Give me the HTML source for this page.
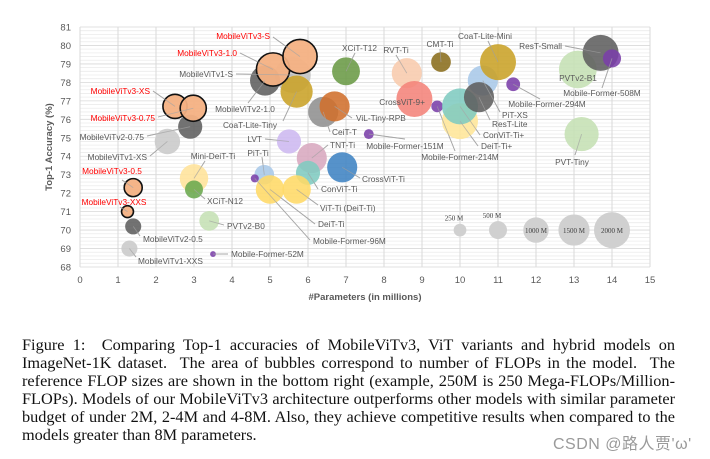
<!DOCTYPE html>
<html><head><meta charset="utf-8">
<style>
html,body{margin:0;padding:0;background:#fff;}
#wrap{position:relative;width:710px;height:459px;overflow:hidden;}
#chart{position:absolute;left:0;top:0;}
#caption{position:absolute;left:22px;top:336px;width:653px;font-family:"Liberation Serif",serif;font-size:16.3px;line-height:18.1px;color:#111;}
#caption div{text-align:justify;text-align-last:justify;white-space:nowrap;}
#caption div.last{text-align-last:left;}
#wm{position:absolute;left:553px;top:430px;font-family:"Liberation Sans","Noto Sans CJK SC",sans-serif;font-size:16px;color:#9a9a9a;letter-spacing:0.5px;}
</style></head>
<body>
<div id="wrap">
<svg id="chart" width="710" height="320" font-family="'Liberation Sans',sans-serif"></svg>
<div id="caption">
<div style="white-space:normal">Figure 1: &nbsp;Comparing Top-1 accuracies of MobileViTv3, ViT variants and hybrid models on</div>
<div style="white-space:normal">ImageNet-1K dataset. &nbsp;The area of bubbles correspond to number of FLOPs in the model. &nbsp;The</div>
<div style="white-space:normal">reference FLOP sizes are shown in the bottom right (example, 250M is 250 Mega-FLOPs/Million-</div>
<div style="white-space:normal">FLOPs). Models of our MobileViTv3 architecture outperforms other models with similar parameter</div>
<div style="white-space:normal">budget of under 2M, 2-4M and 4-8M. Also, they achieve competitive results when compared to the</div>
<div class="last">models greater than 8M parameters.</div>
</div>
<div id="wm">CSDN @路人贾'ω'</div>
</div>
<script>
const names=["MobileViTv1-S","MobileViTv2-1.0","CoaT-Lite-Tiny","MobileViTv3-1.0","MobileViTv3-S","MobileViTv2-0.75","MobileViTv1-XS","MobileViTv3-XS","MobileViTv3-0.75","XCiT-T12","CeiT-T","ViL-Tiny-RPB","LVT","TNT-Ti","CrossViT-Ti","ConViT-Ti","PiT-Ti","DeiT-Ti","ViT-Ti (DeiT-Ti)","Mobile-Former-96M","Mini-DeiT-Ti","XCiT-N12","PVTv2-B0","Mobile-Former-52M","MobileViTv2-0.5","MobileViTv1-XXS","MobileViTv3-0.5","MobileViTv3-XXS","RVT-Ti","CMT-Ti","CrossViT-9+","Mobile-Former-151M","Mobile-Former-214M","DeiT-Ti+","ConViT-Ti+","PiT-XS","ResT-Lite","CoaT-Lite-Mini","Mobile-Former-294M","PVTv2-B1","ResT-Small","Mobile-Former-508M","PVT-Tiny"];
const params=[5.6,4.87,5.7,5.08,5.79,2.9,2.3,2.5,2.98,7.0,6.4,6.7,5.5,6.1,6.9,6.0,4.85,5.0,5.7,4.6,3.0,3.0,3.4,3.5,1.4,1.3,1.4,1.25,8.6,9.5,8.8,7.6,9.4,10.0,10.0,10.6,10.5,11.0,11.4,13.1,13.7,14.0,13.2];
const acc=[78.4,78.1,77.5,78.7,79.4,75.6,74.8,76.7,76.6,78.6,76.4,76.7,74.8,73.9,73.4,73.1,73.0,72.2,72.2,72.8,72.8,72.2,70.5,68.7,70.2,69.0,72.3,71.0,78.5,79.1,77.1,75.2,76.7,75.9,76.7,78.1,77.2,79.1,77.9,78.7,79.6,79.3,75.2];
const flops=[2000,1400,1600,1700,1800,900,1000,900,1050,1200,1400,1400,900,1400,1400,900,600,1250,1250,100,1250,500,600,52,400,400,500,220,1400,600,2000,151,214,2000,2000,1400,1400,2000,294,2200,2000,508,1800];
const colors=["#c4c4c4","#5e5e5e","#c9a227","#f4b183","#f4b183","#5e5e5e","#c9c9c9","#f4b183","#f4b183","#6a9a45","#8f8f8f","#d0702c","#cdb8f0","#d8a8bf","#3f83c3","#7fcbc0","#a8c8e8","#ffd966","#ffd966","#7a3fa8","#ffe29a","#6aa84f","#c5e0b4","#7a3fa8","#5e5e5e","#c9c9c9","#f4b183","#f4b183","#f8cbad","#8a6d1c","#f4837a","#7a3fa8","#7a3fa8","#ffe699","#7fcbc0","#a8c8e8","#5e5e5e","#c9a227","#7a3fa8","#c5e0b4","#5e5e5e","#7a3fa8","#c5e0b4"];
const refFlops=[250,500,1000,1500,2000];
const refLabels=["250 M","500 M","1000 M","1500 M","2000 M"];
const refX=[10,11,12,13,14];
const refY=70;
const xTicks=[0,1,2,3,4,5,6,7,8,9,10,11,12,13,14,15];
const yTicks=[68,69,70,71,72,73,74,75,76,77,78,79,80,81];
// label layout: [x, y, anchor, lineStartX, lineStartY] (pixels)
const labelLayout={
"MobileViTv3-S":[270,36,"end",273,37],"MobileViTv3-1.0":[237,53,"end",240,53],"MobileViTv1-S":[233,74,"end",236,74],
"MobileViTv2-1.0":[245,109,"middle",248,103],"CoaT-Lite-Tiny":[250,125,"middle",283,121],"MobileViTv3-XS":[150,91,"end",153,91],
"MobileViTv3-0.75":[155,118,"end",158,117],"MobileViTv2-0.75":[144,137,"end",147,136],"MobileViTv1-XS":[147,157,"end",150,156],
"XCiT-T12":[342,48,"start",355,53],"RVT-Ti":[396,50,"middle",396,55],"CMT-Ti":[440,44,"middle",440,49],"CoaT-Lite-Mini":[485,36,"middle",488,41],
"ResT-Small":[562,46,"end",565,46],"PVTv2-B1":[578,78,"middle",null,null],"Mobile-Former-508M":[602,93,"middle",602,88],
"Mobile-Former-294M":[547,104,"middle",540,99],"CrossViT-9+":[425,102,"end",null,null],"ViL-Tiny-RPB":[356,118,"start",352,118],
"PiT-XS":[502,115,"start",500,112],"ResT-Lite":[492,124,"start",490,120],"ConViT-Ti+":[483,135,"start",480,135],"DeiT-Ti+":[481,146,"start",478,146],
"Mobile-Former-214M":[460,157,"middle",455,151],"Mobile-Former-151M":[405,146,"middle",405,139],"CeiT-T":[332,132,"start",330,132],
"LVT":[262,139,"end",265,139],"TNT-Ti":[330,145,"start",328,145],"CrossViT-Ti":[362,179,"start",360,178],"ConViT-Ti":[321,189,"start",318,189],
"ViT-Ti (DeiT-Ti)":[320,208,"start",318,205],"DeiT-Ti":[318,224,"start",315,224],"Mobile-Former-96M":[313,241,"start",310,240],
"PiT-Ti":[258,153,"middle",262,157],"PVT-Tiny":[572,162,"middle",575,155],"Mini-DeiT-Ti":[213,156,"middle",205,161],
"XCiT-N12":[207,201,"start",205,199],"PVTv2-B0":[227,226,"start",224,225],"Mobile-Former-52M":[231,254,"start",228,254],
"MobileViTv3-0.5":[112,171,"middle",122,180],"MobileViTv3-XXS":[114,202,"middle",120,207],"MobileViTv2-0.5":[143,239,"start",140,236],
"MobileViTv1-XXS":[138,261,"start",136,257]};
const X0=80,X1=650,Y0=267,Y1=27;
const xs=v=>X0+(X1-X0)*v/15;
const ys=v=>Y0-(Y0-Y1)*(v-68)/13;
const rs=f=>18*Math.sqrt(f/2000);
const svg=document.getElementById('chart');
const NS="http://www.w3.org/2000/svg";
function mk(tag,attrs,parent){const e=document.createElementNS(NS,tag);for(const k in attrs)e.setAttribute(k,attrs[k]);(parent||svg).appendChild(e);return e;}
for(let i=0;i<=65;i++){const v=68+i*0.2;const y=ys(v);
const l=mk('line',{x1:X0,x2:X1,y1:y,y2:y,stroke:(i%5===0)?'#d9d9d9':'#ececec','stroke-width':0.8});

}
xTicks.forEach(t=>{const l=mk('line',{x1:xs(t),x2:xs(t),y1:Y1,y2:Y0,stroke:'#d9d9d9','stroke-width':1});


const tx=mk('text',{x:xs(t),y:Y0+16,'text-anchor':'middle','font-size':9.5,fill:'#595959'});tx.textContent=t;

});
yTicks.forEach(t=>{const tx=mk('text',{x:71,y:ys(t)+3.5,'text-anchor':'end','font-size':9.5,fill:'#595959'});tx.textContent=t;

});
const xt=mk('text',{x:365,y:300,'text-anchor':'middle','font-size':9.5,'font-weight':'bold',fill:'#595959'});xt.textContent='#Parameters (in millions)';


const yt=mk('text',{x:0,y:0,transform:'translate(52,147) rotate(-90)','text-anchor':'middle','font-size':9.5,'font-weight':'bold',fill:'#595959'});yt.textContent='Top-1 Accuracy (%)';


refFlops.forEach((f,i)=>{const c=mk('circle',{cx:xs(refX[i]),cy:ys(refY),r:rs(f),fill:'#d0d0d0'});


const big=i>=2;
const t=mk('text',{x:big?xs(refX[i]):xs(refX[i])-6,y:big?ys(refY)+3:ys(refY)-rs(f)-3,'text-anchor':'middle','font-size':7,'font-family':"'Liberation Serif',serif",fill:'#404040'});t.textContent=refLabels[i];

});
const lg=mk('g',{});
names.forEach((n,i)=>{const L=labelLayout[n];if(!L||L[3]===null)return;
const l=mk('line',{x1:L[3],y1:L[4],x2:xs(params[i]),y2:ys(acc[i]),stroke:'#a6a6a6','stroke-width':0.9},lg);

});
names.forEach((n,i)=>{const v3=n.startsWith('MobileViTv3');
const c=mk('circle',{cx:xs(params[i]),cy:ys(acc[i]),r:rs(flops[i]),fill:colors[i],'fill-opacity':v3?0.95:0.88,stroke:v3?'#111':'none','stroke-width':v3?1.6:0});

});
names.forEach((n,i)=>{const L=labelLayout[n];if(!L||L[3]===null)return;
mk('line',{x1:L[3],y1:L[4],x2:xs(params[i]),y2:ys(acc[i]),stroke:'#a6a6a6','stroke-width':0.8,'stroke-opacity':0.7});});
names.forEach((n,i)=>{const L=labelLayout[n];if(!L)return;const v3=n.startsWith('MobileViTv3');
const t=mk('text',{x:L[0],y:L[1]+3,'text-anchor':L[2],'font-size':8.3,fill:v3?'#ff0000':'#595959'});t.textContent=n;

});
</script>
</body></html>
